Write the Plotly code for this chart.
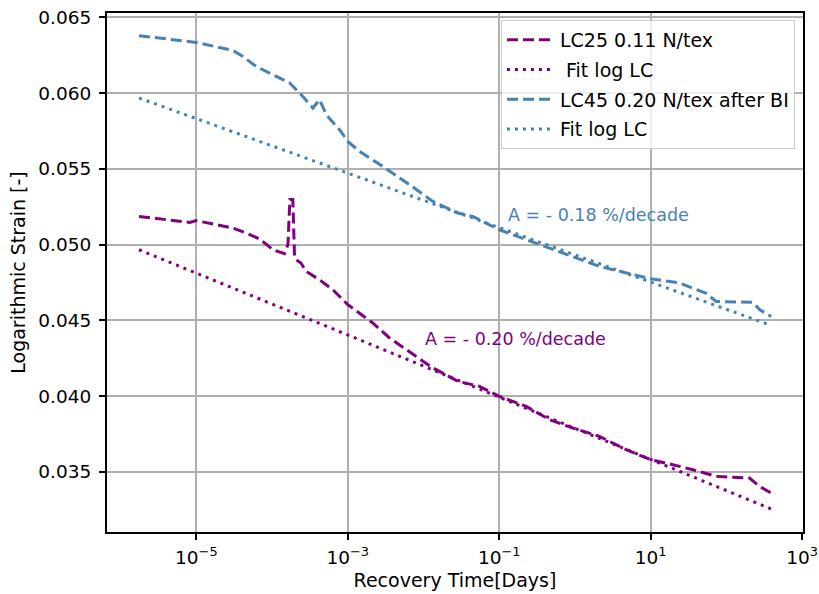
import plotly.graph_objects as go

# ---- data ----
lc25_days = [1.75e-6, 8.2e-6, 1.0e-5, 3.04e-5, 4.57e-5, 6.85e-5, 1.03e-4, 1.46e-4,
             1.62e-4, 1.72e-4, 1.88e-4, 1.98e-4, 2.09e-4, 2.4e-4, 2.83e-4, 4.24e-4,
             6.36e-4, 8.61e-4, 1.0e-3, 2.14e-3, 3.56e-3, 8.02e-3, 1.33e-2, 1.63e-2,
             2.84e-2, 5.49e-2, 0.1, 0.227, 0.461, 0.937, 2.11, 4.75, 10.0, 19.6,
             36.0, 73.3, 202.0, 274.0, 390.0]
lc25_strain = [0.05186, 0.05146, 0.05158, 0.05109, 0.05076, 0.05037, 0.04966, 0.04940,
               0.05000, 0.05297, 0.05297, 0.04922, 0.04900, 0.04879, 0.04823, 0.04768,
               0.04702, 0.04636, 0.04604, 0.04483, 0.04384, 0.04262, 0.04186, 0.04164,
               0.04098, 0.04065, 0.03999, 0.03933, 0.03845, 0.03790, 0.03735, 0.03647,
               0.03581, 0.03548, 0.03515, 0.03471, 0.03460, 0.03405, 0.03361]

lc25_fit_days = [1.75e-6, 1.0e-3, 390.0]
lc25_fit_strain = [0.04966, 0.04404, 0.03256]

lc45_days = [1.75e-6, 1.0e-5, 3.04e-5, 4.12e-5, 6.19e-5, 1.03e-4, 1.71e-4, 2.55e-4,
             3.46e-4, 4.24e-4, 5.2e-4, 7.79e-4, 1.0e-3, 1.43e-3, 2.9e-3, 6.55e-3,
             1.33e-2, 2.84e-2, 4.48e-2, 0.1, 0.34, 2.11, 10.0, 24.0, 54.1, 73.3,
             223.0, 274.0, 390.0]
lc45_strain = [0.06378, 0.06334, 0.06281, 0.06241, 0.06175, 0.06120, 0.06066, 0.05977,
               0.05901, 0.05956, 0.05857, 0.05758, 0.05681, 0.05615, 0.05516, 0.05395,
               0.05285, 0.05208, 0.05186, 0.05098, 0.04999, 0.04856, 0.04775, 0.04747,
               0.04678, 0.04625, 0.04619, 0.04571, 0.04526]

lc45_fit_days = [1.75e-6, 390.0]
lc45_fit_strain = [0.05967, 0.04467]

x_tick_vals = [1e-5, 1e-3, 1e-1, 1e1, 1e3]
x_tick_text = ["10<sup>\u22125</sup>", "10<sup>\u22123</sup>", "10<sup>\u22121</sup>",
               "10<sup>1</sup>", "10<sup>3</sup>"]
y_tick_vals = [0.035, 0.040, 0.045, 0.050, 0.055, 0.060, 0.065]
y_tick_text = ["0.035", "0.040", "0.045", "0.050", "0.055", "0.060", "0.065"]

PURPLE = "#800080"
BLUE = "#4682B4"
FONT = "DejaVu Sans"
DASH = "11px,5px"
DOT = "3px,5px"

fig = go.Figure()
fig.add_trace(go.Scatter(x=lc25_days, y=lc25_strain, mode="lines", name="LC25 0.11 N/tex",
                         legendgroup="a", line=dict(color=PURPLE, width=3, dash=DASH)))
fig.add_trace(go.Scatter(x=lc25_fit_days, y=lc25_fit_strain, mode="lines", name=" Fit log LC",
                         legendgroup="b", line=dict(color=PURPLE, width=3, dash=DOT)))
fig.add_trace(go.Scatter(x=lc45_days, y=lc45_strain, mode="lines", name="LC45 0.20 N/tex after BI",
                         legendgroup="c", line=dict(color=BLUE, width=3, dash=DASH)))
fig.add_trace(go.Scatter(x=lc45_fit_days, y=lc45_fit_strain, mode="lines", name="Fit log LC",
                         legendgroup="d", line=dict(color=BLUE, width=3, dash=DOT)))

fig.add_annotation(x=-0.904, y=0.05197, xref="x", yref="y", text="A = - 0.18 %/decade",
                   showarrow=False, xanchor="left", yanchor="middle",
                   font=dict(family=FONT, size=17.5, color=BLUE))
fig.add_annotation(x=-2.013, y=0.04379, xref="x", yref="y", text="A = - 0.20 %/decade",
                   showarrow=False, xanchor="left", yanchor="middle",
                   font=dict(family=FONT, size=17.5, color=PURPLE))

fig.update_layout(
    width=819, height=594,
    margin=dict(l=107, r=16, t=13, b=62),
    paper_bgcolor="white", plot_bgcolor="white",
    font=dict(family=FONT, size=18.5, color="black"),
    showlegend=True,
    legend=dict(x=0.9885, y=0.9865, xanchor="right", yanchor="top",
                bgcolor="rgba(255,255,255,0.8)", bordercolor="#cccccc", borderwidth=1,
                font=dict(family=FONT, size=19, color="black"),
                traceorder="grouped", tracegroupgap=2, itemwidth=48),
    xaxis=dict(type="log", range=[-6.18, 3.012], automargin=False,
               tickvals=x_tick_vals, ticktext=x_tick_text,
               showgrid=True, gridcolor="#b0b0b0", gridwidth=1.5,
               showline=True, linecolor="black", linewidth=2, mirror=True,
               ticks="outside", ticklen=6, tickwidth=2, tickcolor="black",
               ticklabelstandoff=2, zeroline=False,
               title=dict(text="Recovery Time[Days]", standoff=6,
                          font=dict(family=FONT, size=19))),
    yaxis=dict(range=[0.03104, 0.06528], automargin=False,
               tickvals=y_tick_vals, ticktext=y_tick_text,
               showgrid=True, gridcolor="#b0b0b0", gridwidth=1.5,
               showline=True, linecolor="black", linewidth=2, mirror=True,
               ticks="outside", ticklen=6, tickwidth=2, tickcolor="black",
               ticklabelstandoff=4, zeroline=False,
               title=dict(text="Logarithmic Strain [-]", standoff=8,
                          font=dict(family=FONT, size=19))),
)

fig.write_html("out.html", config={"displayModeBar": False},
               post_script="document.body.style.margin='0px';document.body.style.overflow='hidden';")
